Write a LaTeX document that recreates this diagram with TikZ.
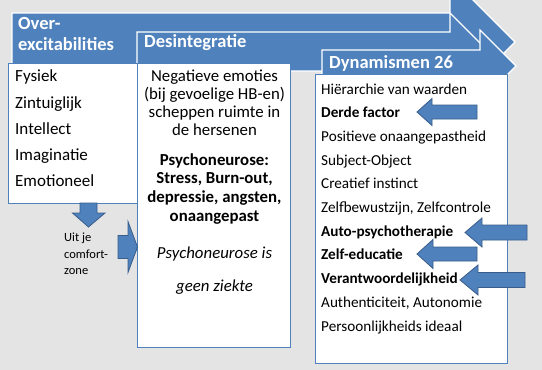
\documentclass[tikz,border=0pt]{standalone}
\usepackage{fontspec}
\setmainfont{Carlito}
\definecolor{accblue}{RGB}{79,129,189}
\definecolor{accdark}{RGB}{56,93,138}
\definecolor{bggray}{RGB}{228,228,228}
\begin{document}
\begin{tikzpicture}[x=1pt,y=-1pt,
  bigarrow/.style={fill=accblue,draw=white,line width=1.2pt,line join=miter},
  smallarrow/.style={fill=accblue,draw=accdark,line width=0.8pt,line join=miter},
  panel/.style={fill=white,draw=accblue,line width=1.2pt,anchor=north west,inner sep=0pt},
  hdr/.style={text=white,font=\fontsize{18.5}{21}\selectfont\bfseries,anchor=base west,inner sep=0pt},
  ta/.style={font=\fontsize{17}{20}\selectfont,anchor=base west,inner sep=0pt},
  tb/.style={font=\fontsize{16.8}{18}\selectfont,anchor=base,inner sep=0pt},
  tc/.style={font=\fontsize{15.2}{18}\selectfont,anchor=base west,inner sep=0pt},
  tsmall/.style={font=\fontsize{12.5}{15}\selectfont,anchor=base west,inner sep=0pt}]
\fill[bggray] (0,0) rectangle (542,370);
\useasboundingbox (0,0) rectangle (542,370);
\begin{scope}
\clip (0,0) rectangle (542,370);
% big process arrows
\draw[bigarrow] (12,13) -- (450,13) -- (450,-23) -- (515,42) -- (450,107) -- (450,71) -- (12,71) -- cycle;
\draw[bigarrow] (137,32) -- (450,32) -- (450,13) -- (488.5,51.5) -- (450,90) -- (450,71) -- (137,71) -- cycle;
\draw[bigarrow] (322,50) -- (480,50) -- (480,30) -- (516,66) -- (480,102) -- (480,82) -- (322,82) -- cycle;
\end{scope}
% panels
\node[panel,minimum width=129pt,minimum height=140pt] (box1) at (8,62.5) {};
\node[panel,minimum width=153pt,minimum height=284.5pt] (box2) at (137,62.5) {};
\node[panel,minimum width=192pt,minimum height=289pt] (box3) at (315,74) {};
% headers
\node[hdr] (h1a) at (18,29.3) {Over-};
\node[hdr] (h1b) at (18,50) {excitabilities};
\node[hdr] (h2) at (144,47.3) {Desintegratie};
\node[hdr] (h3) at (329,68.3) {Dynamismen 26};
% small arrows
\draw[smallarrow] (80,203) -- (97,203) -- (97,213) -- (105,213) -- (88.5,227) -- (72.5,213) -- (80,213) -- cycle;
\draw[smallarrow] (118,235.5) -- (128,235.5) -- (128,221.5) -- (137.5,247) -- (128,272.5) -- (128,258.5) -- (118,258.5) -- cycle;
\draw[smallarrow] (477,105) -- (432,105) -- (432,98.5) -- (417,112) -- (432,125.5) -- (432,119) -- (477,119) -- cycle;
\draw[smallarrow] (527,225) -- (482,225) -- (482,218) -- (465,232.5) -- (482,247) -- (482,240) -- (527,240) -- cycle;
\draw[smallarrow] (477,247) -- (433,247) -- (433,239.5) -- (417,254) -- (433,268.5) -- (433,261) -- (477,261) -- cycle;
\draw[smallarrow] (525,272.5) -- (478,272.5) -- (478,265) -- (460,280) -- (478,295) -- (478,287.5) -- (525,287.5) -- cycle;
% column 1
\node[ta] (a1) at (15,81.7) {Fysiek};
\node[ta] (a2) at (15,108) {Zintuiglijk};
\node[ta] (a3) at (15,134.2) {Intellect};
\node[ta] (a4) at (15,160.5) {Imaginatie};
\node[ta] (a5) at (15,186.7) {Emotioneel};
% comfort zone text
\node[tsmall] (c1) at (64,241.7) {Uit je};
\node[tsmall] (c2) at (64,258) {comfort-};
\node[tsmall] (c3) at (64,274) {zone};
% column 2
\node[tb] (b1) at (214.5,81.3) {Negatieve emoties};
\node[tb] (b2) at (214.5,99.3) {(bij gevoelige HB-en)};
\node[tb] (b3) at (214.5,117.5) {scheppen ruimte in};
\node[tb] (b4) at (214.5,135.5) {de hersenen};
\node[tb,font=\fontsize{16.8}{18}\selectfont\bfseries] (b5) at (214.5,165.3) {Psychoneurose:};
\node[tb,font=\fontsize{16.8}{18}\selectfont\bfseries] (b6) at (214.5,183.8) {Stress, Burn-out,};
\node[tb,font=\fontsize{16.8}{18}\selectfont\bfseries] (b7) at (214.5,202.2) {depressie, angsten,};
\node[tb,font=\fontsize{16.8}{18}\selectfont\bfseries] (b8) at (214.5,221) {onaangepast};
\node[tb,font=\fontsize{16.8}{18}\selectfont\itshape] (b9) at (214.5,258) {Psychoneurose is};
\node[tb,font=\fontsize{16.8}{18}\selectfont\itshape] (b10) at (214.5,291.3) {geen ziekte};
% column 3
\node[tc] (d1) at (321,94) {Hiërarchie van waarden};
\node[tc,font=\fontsize{15.2}{18}\selectfont\bfseries] (d2) at (321,117.7) {Derde factor};
\node[tc] (d3) at (321,141.4) {Positieve onaangepastheid};
\node[tc] (d4) at (321,165.1) {Subject-Object};
\node[tc] (d5) at (321,188.8) {Creatief instinct};
\node[tc] (d6) at (321,212.5) {Zelfbewustzijn, Zelfcontrole};
\node[tc,font=\fontsize{15.2}{18}\selectfont\bfseries] (d7) at (321,236.2) {Auto-psychotherapie};
\node[tc,font=\fontsize{15.2}{18}\selectfont\bfseries] (d8) at (321,259.9) {Zelf-educatie};
\node[tc,font=\fontsize{15.2}{18}\selectfont\bfseries] (d9) at (321,283.6) {Verantwoordelijkheid};
\node[tc] (d10) at (321,307.3) {Authenticiteit, Autonomie};
\node[tc] (d11) at (321,331) {Persoonlijkheids ideaal};
\end{tikzpicture}
\end{document}
